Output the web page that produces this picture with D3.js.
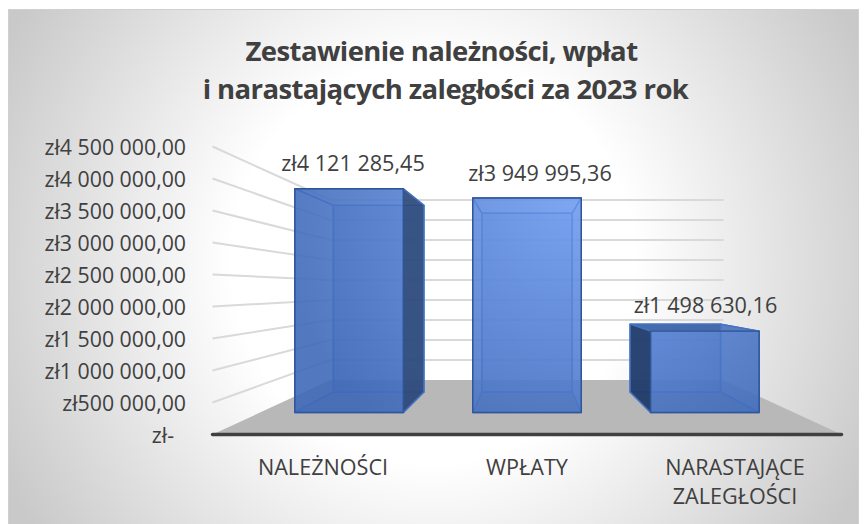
<!DOCTYPE html>
<html>
<head>
<meta charset="utf-8">
<title>Zestawienie</title>
<style>
html, body { margin: 0; padding: 0; background: #fff; overflow: hidden; }
svg { display: block; font-family: 'Open Sans', sans-serif; }
.tick-label { font-size: 21.3px; fill: #404040; text-anchor: end; }
.cat-label { font-size: 21.6px; fill: #404040; text-anchor: middle; }
.val-label { font-size: 21.6px; fill: #404040; text-anchor: middle; }
.title { font-size: 27.5px; font-weight: bold; fill: #404040; text-anchor: middle; letter-spacing: -0.6px; }
.grid { stroke: #d9d9d9; stroke-width: 2; fill: none; }
</style>
<script src="https://cdn.jsdelivr.net/npm/d3@7"></script>
</head>
<body>
<script>
var categories = [["NALEŻNOŚCI"], ["WPŁATY"], ["NARASTAJĄCE", "ZALEGŁOŚCI"]];
var values = [4121285.45, 3949995.36, 1498630.16];
var valueLabels = ["zł4 121 285,45", "zł3 949 995,36", "zł1 498 630,16"];
var tickValues = [0, 500000, 1000000, 1500000, 2000000, 2500000, 3000000, 3500000, 4000000, 4500000];
var tickLabels = ["zł-", "zł500 000,00", "zł1 000 000,00", "zł1 500 000,00", "zł2 000 000,00",
    "zł2 500 000,00", "zł3 000 000,00", "zł3 500 000,00", "zł4 000 000,00", "zł4 500 000,00"];
var titleLines = ["Zestawienie należności, wpłat", "i narastających zaległości za 2023 rok"];

var width = 867,
    height = 524;

var svg = d3.select("body").append("svg")
    .attr("width", width)
    .attr("height", height);

var defs = svg.append("defs");

var bg = defs.append("radialGradient").attr("id", "bg")
    .attr("gradientUnits", "userSpaceOnUse")
    .attr("cx", 433).attr("cy", 262).attr("r", 480);
bg.append("stop").attr("offset", "0.42").attr("stop-color", "#ffffff");
bg.append("stop").attr("offset", "1").attr("stop-color", "#c9c9c9");

var barFill = defs.append("radialGradient").attr("id", "barFill")
    .attr("gradientUnits", "userSpaceOnUse")
    .attr("cx", 575).attr("cy", 195).attr("r", 300);
barFill.append("stop").attr("offset", "0").attr("stop-color", "#719df0");
barFill.append("stop").attr("offset", "1").attr("stop-color", "#3f69b8");

svg.append("rect").attr("width", width).attr("height", height).attr("fill", "#fff");
svg.append("rect")
    .attr("x", 8.5).attr("y", 9.5).attr("width", 850).attr("height", 515)
    .attr("fill", "url(#bg)")
    .attr("stroke", "#d0d0d0");

// plot is a perspective box: x in band space, y in value, depth 0 (front) .. 1 (back)
var centerX = 527,
    frontHalf = 314.5,
    frontBase = 434.5,
    depthRise = 54.5,
    shrink = 0.375;

var x = d3.scaleBand().domain(d3.range(categories.length)).range([-1, 1])
    .paddingInner(0.39).paddingOuter(0.195);
var y = d3.scaleLinear().domain([0, 4500000]).range([0, 288]);

function project(px, value, depth) {
    var s = 1 - shrink * depth;
    return [centerX + px * frontHalf * s, frontBase - depthRise * depth - y(value) * s];
}

function polyPath(points) {
    return "M" + points.map(function (p) { return project(p[0], p[1], p[2]).join(","); }).join("L") + "Z";
}

// floor
svg.append("path")
    .attr("d", polyPath([[-1, 0, 0], [-1, 0, 1], [1, 0, 1], [1, 0, 0]]))
    .attr("fill", "#b8b8b8");

// gridlines on left wall and back wall
tickValues.forEach(function (v) {
    if (v === 0) return;
    svg.append("path")
        .attr("class", "grid")
        .attr("d", "M" + project(-1, v, 0).join(",") + "L" + project(-1, v, 1).join(",") + "L" + project(1, v, 1).join(","));
});

// axis line along the front of the floor
svg.append("path")
    .attr("d", "M" + project(-1, 0, 0).join(",") + "L" + project(1, 0, 0).join(","))
    .attr("stroke", "#404040")
    .attr("stroke-width", 3.5)
    .attr("stroke-linecap", "round");

svg.selectAll(".tick-label")
    .data(tickValues)
    .enter().append("text")
    .attr("class", "tick-label")
    .attr("x", function (d) { return d === 0 ? 174 : 186; })
    .attr("y", function (d) { return frontBase - y(d) + 8; })
    .text(function (d, i) { return tickLabels[i]; });

// bars
var barFront = 0.404,
    barBack = 0.78,
    edgeDark = "#2f5597",
    edgeLight = "#4472c4",
    grad = "url(#barFill)";

var barGroups = svg.selectAll(".bar")
    .data(values)
    .enter().append("g")
    .attr("class", "bar");

barGroups.each(function (d, i) {
    var g = d3.select(this);
    var l = x(i), r = x(i) + x.bandwidth();
    var f = barFront, b = barBack;
    var faces = [
        {pts: [[l, 0, b], [r, 0, b], [r, d, b], [l, d, b]], fill: grad, op: 0.75, edge: edgeLight},
        {pts: [[l, 0, f], [r, 0, f], [r, 0, b], [l, 0, b]], fill: "#2f5aa8", op: 0.6, edge: edgeLight},
        {pts: [[l, d, f], [r, d, f], [r, d, b], [l, d, b]], fill: i === 2 ? "#2f5597" : grad, op: i === 2 ? 0.7 : 0.6, edge: edgeLight},
        {pts: [[l, 0, f], [l, d, f], [l, d, b], [l, 0, b]], fill: i === 2 ? "#1f3864" : grad, op: i === 2 ? 0.88 : 0.6, edge: edgeLight},
        {pts: [[r, 0, f], [r, d, f], [r, d, b], [r, 0, b]], fill: i === 0 ? "#2c4674" : grad, op: i === 0 ? 0.85 : 0.6, edge: edgeLight},
        {pts: [[l, 0, f], [r, 0, f], [r, d, f], [l, d, f]], fill: grad, op: 0.75, edge: edgeDark}
    ];
    g.selectAll("path")
        .data(faces)
        .enter().append("path")
        .attr("d", function (p) { return polyPath(p.pts); })
        .attr("fill", function (p) { return p.fill; })
        .attr("fill-opacity", function (p) { return p.op; })
        .attr("stroke", function (p) { return p.edge; })
        .attr("stroke-width", 1.4)
        .attr("stroke-linejoin", "round");
});

svg.selectAll(".val-label")
    .data(values)
    .enter().append("text")
    .attr("class", "val-label")
    .attr("x", function (d, i) { return [353, 540, 705.5][i]; })
    .attr("y", function (d, i) { return [171, 181, 313][i]; })
    .text(function (d, i) { return valueLabels[i]; });

var catCenters = [323, 527, 735];
categories.forEach(function (lines, i) {
    lines.forEach(function (line, j) {
        svg.append("text")
            .attr("class", "cat-label")
            .attr("x", catCenters[i])
            .attr("y", 475 + j * 29)
            .text(line);
    });
});

titleLines.forEach(function (line, j) {
    svg.append("text")
        .attr("class", "title")
        .attr("x", [441.5, 445.5][j])
        .attr("y", 60.5 + j * 38)
        .text(line);
});
</script>
</body>
</html>
